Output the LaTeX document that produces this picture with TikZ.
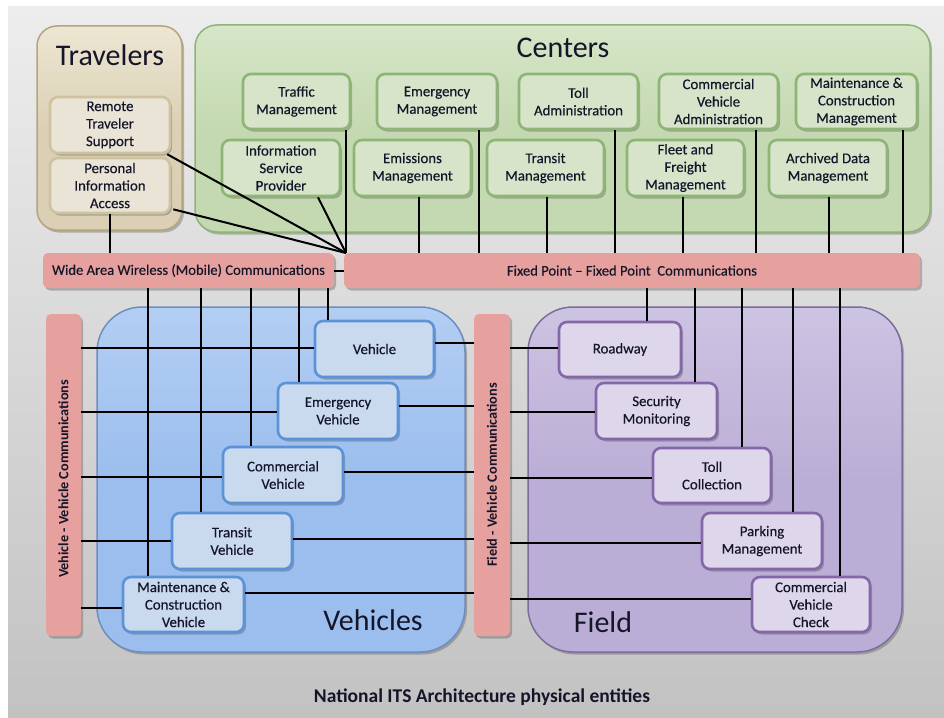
\documentclass[tikz,border=0pt]{standalone}
\usepackage{fontspec}
\setmainfont{Carlito}
\newfontfamily\lblfont{Carlito}[FakeBold=0.35]
\usetikzlibrary{shadows}

\definecolor{bgtop}{HTML}{EDEDED}
\definecolor{bgbot}{HTML}{C2C2C2}
\definecolor{ink}{HTML}{15152A}
\definecolor{travfill}{HTML}{DBD0B5}
\definecolor{travtop}{HTML}{EDE6D2}
\definecolor{travline}{HTML}{B3A57F}
\definecolor{travin}{HTML}{EAE4D6}
\definecolor{travinb}{HTML}{CFC39F}
\definecolor{cenfill}{HTML}{C4D9B1}
\definecolor{centop}{HTML}{D6E6C8}
\definecolor{cenline}{HTML}{8FB377}
\definecolor{cenin}{HTML}{D7E4CA}
\definecolor{ceninb}{HTML}{8DB575}
\definecolor{vehfill}{HTML}{9BBEEE}
\definecolor{vehtop}{HTML}{B3CEF3}
\definecolor{vehline}{HTML}{6E8EBF}
\definecolor{vehin}{HTML}{C9D9EE}
\definecolor{vehinb}{HTML}{5C93D8}
\definecolor{fldfill}{HTML}{BBAED6}
\definecolor{fldtop}{HTML}{CDC3E2}
\definecolor{fldline}{HTML}{7D6C9C}
\definecolor{fldin}{HTML}{DED6EA}
\definecolor{fldinb}{HTML}{8467A9}
\definecolor{barfill}{HTML}{E6A19F}

\tikzset{
  shadowed/.style={drop shadow={shadow xshift=2pt,shadow yshift=-2.5pt,opacity=.35,fill=black!70}},
  region/.style={shadowed,line width=1.5pt,rounded corners=#1,inner sep=0pt},
  regtitle/.style={font=\fontsize{30}{32}\selectfont,text=ink,inner sep=0pt},
  lbl/.style={font=\lblfont\fontsize{14.8}{17.5}\selectfont,text=ink,align=center,inner sep=0pt},
  ebox/.style={lbl,shadowed,line width=2.6pt,rounded corners=8pt},
  tbox/.style={ebox,draw=travinb,fill=travin},
  cbox/.style={ebox,draw=ceninb,fill=cenin},
  vbox/.style={ebox,draw=vehinb,fill=vehin},
  fbox/.style={ebox,draw=fldinb,fill=fldin},
  bar/.style={shadowed,fill=barfill,rounded corners=5pt,inner sep=0pt},
  barlbl/.style={font=\lblfont\fontsize{14.6}{16}\selectfont,text=ink,inner sep=0pt},
  vbarlbl/.style={font=\bfseries\fontsize{14.2}{16}\selectfont,text=ink,rotate=90,inner sep=0pt},
  conn/.style={line width=2pt,draw=black},
}

\begin{document}
\begin{tikzpicture}[x=1pt,y=-1pt]
\useasboundingbox (0,0) rectangle (944,717);
\fill[white] (0,0) rectangle (944,717);
\shade[top color=bgtop,bottom color=bgbot] (8,7) rectangle (944,717);

% ---- the four groups of entities, lighter towards the top edge
\node[region=20pt,draw=travline,top color=travtop,bottom color=travfill,middle color=travfill,minimum width=145,minimum height=204] (travelers) at (109.5,128) {};
\node[region=22pt,draw=cenline,top color=centop,bottom color=cenfill,middle color=cenfill,minimum width=735,minimum height=207] (centers) at (562.5,128.5) {};
\node[region=45pt,draw=vehline,top color=vehtop,bottom color=vehfill,middle color=vehfill,minimum width=368,minimum height=345] (vehicles) at (281,479.5) {};
\node[region=45pt,draw=fldline,top color=fldtop,bottom color=fldfill,middle color=fldfill,minimum width=374,minimum height=345] (field) at (715,479.5) {};

\node[regtitle] (travtitle) at (110,55) {Travelers};
\node[regtitle] (centitle) at (563,48) {Centers};
\node[regtitle] (vehtitle) at (373,620) {Vehicles};
\node[regtitle] (fldtitle) at (603,622) {Field};

% ---- communication links
\node[bar,minimum width=291,minimum height=35] (wa) at (188.5,270.5) {};
\node[barlbl] (walbl) at (wa.center) {Wide Area Wireless (Mobile) Communications};
\node[bar,minimum width=576,minimum height=35] (fp) at (632,270.5) {};
\node[barlbl] (fplbl) at (fp.center) {Fixed Point – Fixed Point\ \ Communications};
\node[bar,minimum width=35,minimum height=322] (vv) at (63.5,475) {};
\node[vbarlbl] (vvlbl) at (63.5,479) {Vehicle - Vehicle Communications};
\node[bar,minimum width=36,minimum height=322] (fv) at (492,475) {};
\node[vbarlbl] (fvlbl) at (fv.center) {Field - Vehicle Communications};

% ---- travelers
\node[tbox,minimum width=120,minimum height=56] (rts) at (110,125) {Remote\\Traveler\\Support};
\node[tbox,minimum width=120,minimum height=55] (pia) at (110,185.5) {Personal\\Information\\Access};

% ---- centers
\node[cbox,minimum width=107,minimum height=55] (tm) at (296.5,101.5) {Traffic\\Management};
\node[cbox,minimum width=120,minimum height=55] (em) at (437,101.5) {Emergency\\Management};
\node[cbox,minimum width=119,minimum height=55] (ta) at (578.5,101.5) {Toll\\Administration};
\node[cbox,minimum width=119,minimum height=55] (cva) at (718.5,101.5) {Commercial\\Vehicle\\Administration};
\node[cbox,minimum width=121,minimum height=55] (mcm) at (856.5,101.5) {Maintenance \&\\Construction\\Management};
\node[cbox,minimum width=118,minimum height=56] (isp) at (281,168) {Information\\Service\\Provider};
\node[cbox,minimum width=117,minimum height=56] (emi) at (412.5,168) {Emissions\\Management};
\node[cbox,minimum width=117,minimum height=56] (trm) at (545.5,168) {Transit\\Management};
\node[cbox,minimum width=117,minimum height=56] (ffm) at (685.5,168) {Fleet and\\Freight\\Management};
\node[cbox,minimum width=118,minimum height=56] (adm) at (828,168) {Archived Data\\Management};

% ---- vehicles
\node[vbox,minimum width=119,minimum height=56] (veh) at (374.5,349) {Vehicle};
\node[vbox,minimum width=120,minimum height=56] (ev) at (338,411) {Emergency\\Vehicle};
\node[vbox,minimum width=120,minimum height=56] (cv) at (283,475) {Commercial\\Vehicle};
\node[vbox,minimum width=120,minimum height=56] (tv) at (232,541) {Transit\\Vehicle};
\node[vbox,minimum width=121,minimum height=55] (mcv) at (183.5,604.5) {Maintenance \&\\Construction\\Vehicle};

% ---- field
\node[fbox,minimum width=122,minimum height=55] (rw) at (620,349.5) {Roadway};
\node[fbox,minimum width=121,minimum height=56] (sm) at (656.5,411) {Security\\Monitoring};
\node[fbox,minimum width=118,minimum height=55] (tc) at (712,475.5) {Toll\\Collection};
\node[fbox,minimum width=120,minimum height=56] (pm) at (762,541) {Parking\\Management};
\node[fbox,minimum width=118,minimum height=55] (cvc) at (811,604.5) {Commercial\\Vehicle\\Check};

\node[font=\bfseries\fontsize{19.5}{22}\selectfont,text=ink] (caption) at (482,697) {National ITS Architecture physical entities};

% ---- connectors: travelers and centers to the two wide links
\coordinate (hub) at (346,253);
\draw[conn] ([xshift=-4pt]rts.south east) -- (hub);
\draw[conn] ([yshift=5pt,xshift=2pt]pia.south east) -- (hub);
\draw[conn] (isp.south -| 318,0) -- (hub);
\draw[conn] (tm.south -| 346,0) -- (hub);
\draw[conn] (pia.south) -- (pia.south |- wa.north);
\draw[conn] (wa.east) -- (fp.west);
\draw[conn] (emi.south -| 419,0) -- (fp.north -| 419,0);
\draw[conn] (em.south -| 479,0) -- (fp.north -| 479,0);
\draw[conn] (trm.south -| 547,0) -- (fp.north -| 547,0);
\draw[conn] (ta.south -| 615,0) -- (fp.north -| 615,0);
\draw[conn] (ffm.south -| 683,0) -- (fp.north -| 683,0);
\draw[conn] (cva.south -| 756,0) -- (fp.north -| 756,0);
\draw[conn] (adm.south -| 829,0) -- (fp.north -| 829,0);
\draw[conn] (mcm.south -| 903,0) -- (fp.north -| 903,0);

% ---- wide area wireless to vehicles
\draw[conn] (wa.south -| 148,0) -- (mcv.north -| 148,0);
\draw[conn] (wa.south -| 201,0) -- (tv.north -| 201,0);
\draw[conn] (wa.south -| 251,0) -- (cv.north -| 251,0);
\draw[conn] (wa.south -| 299,0) -- (ev.north -| 299,0);
\draw[conn] (wa.south -| 328,0) -- (veh.north -| 328,0);

% ---- vehicle to vehicle
\draw[conn] (vv.east |- 0,348) -- (veh.west |- 0,348);
\draw[conn] (vv.east |- 0,412) -- (ev.west |- 0,412);
\draw[conn] (vv.east |- 0,477) -- (cv.west |- 0,477);
\draw[conn] (vv.east |- 0,541) -- (tv.west |- 0,541);
\draw[conn] (vv.east |- 0,608) -- (mcv.west |- 0,608);

% ---- vehicles to field-vehicle link
\draw[conn] (veh.east |- 0,343) -- (fv.west |- 0,343);
\draw[conn] (ev.east |- 0,406) -- (fv.west |- 0,406);
\draw[conn] (cv.east |- 0,472) -- (fv.west |- 0,472);
\draw[conn] (tv.east |- 0,539) -- (fv.west |- 0,539);
\draw[conn] (mcv.east |- 0,593) -- (fv.west |- 0,593);

% ---- field-vehicle link to field
\draw[conn] (fv.east |- 0,348) -- (rw.west |- 0,348);
\draw[conn] (fv.east |- 0,412) -- (sm.west |- 0,412);
\draw[conn] (fv.east |- 0,478) -- (tc.west |- 0,478);
\draw[conn] (fv.east |- 0,543) -- (pm.west |- 0,543);
\draw[conn] (fv.east |- 0,599) -- (cvc.west |- 0,599);

% ---- fixed point to field
\draw[conn] (fp.south -| 647,0) -- (rw.north -| 647,0);
\draw[conn] (fp.south -| 695,0) -- (sm.north -| 695,0);
\draw[conn] (fp.south -| 742,0) -- (tc.north -| 742,0);
\draw[conn] (fp.south -| 793,0) -- (pm.north -| 793,0);
\draw[conn] (fp.south -| 840,0) -- (cvc.north -| 840,0);
\end{tikzpicture}
\end{document}
